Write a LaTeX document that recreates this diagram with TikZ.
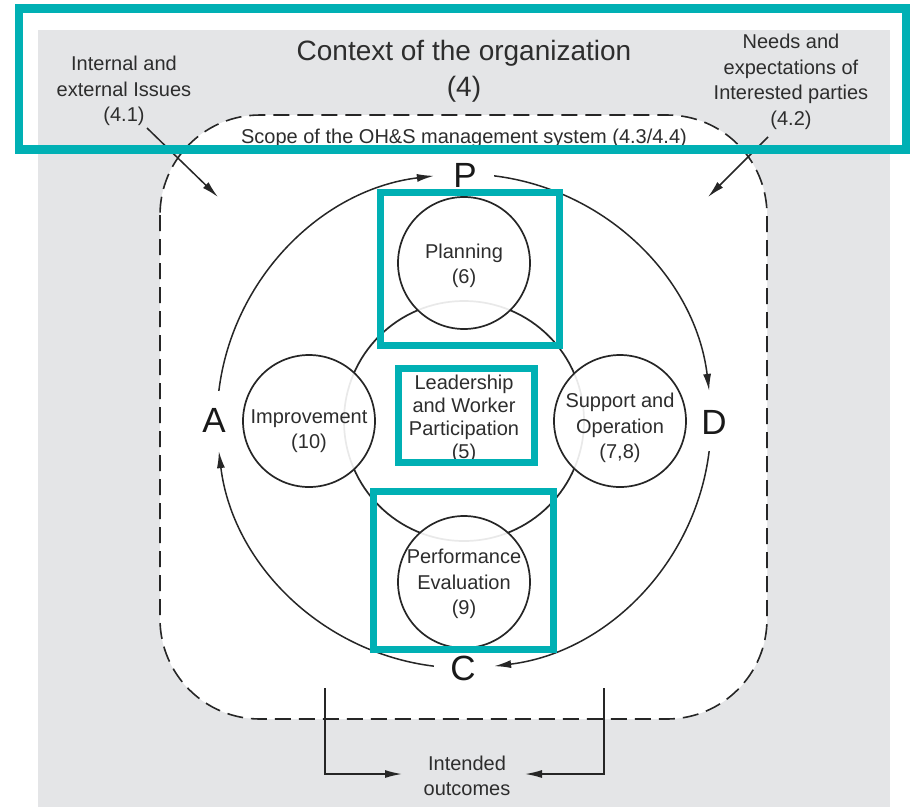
\documentclass[tikz,border=0pt]{standalone}
\usepackage{fontspec}
\setmainfont{Liberation Sans}
\usetikzlibrary{arrows.meta,calc}
\definecolor{tealc}{RGB}{0,176,180}
\definecolor{bggray}{RGB}{228,229,231}
\definecolor{txt}{RGB}{45,45,45}
\begin{document}
\begin{tikzpicture}[x=1pt,y=-1pt,
  lbl/.style={font=\fontsize{20}{25.5}\selectfont, text=txt, align=center, inner sep=0pt},
  titlelbl/.style={font=\fontsize{28}{36}\selectfont, text=txt, align=center, inner sep=0pt},
  pdca/.style={font=\fontsize{35}{40}\selectfont, text=black!90, inner sep=0pt},
  circ/.style={circle, draw=black!85, line width=1.7pt, minimum size=132pt, inner sep=0pt,
               fill=white, fill opacity=0.9},
  tealbox/.style={draw=tealc, line width=7pt},
  arr/.style={-{Latex[length=17pt,width=8pt]}, line width=1.5pt, draw=black!85},
  scopebox/.style={draw=black!85, fill=white, dash pattern=on 16pt off 8pt, line width=1.6pt, rounded corners=100pt}
]
\useasboundingbox (0,0) rectangle (910,807);
% background
\fill[bggray] (38,30) rectangle (890,807);
% scope (dashed) area
\draw[scopebox] (160,115) rectangle (767,719);
% inner circle
\coordinate (O) at (464,421);
\draw[line width=1.7pt, draw=black!85] (O) circle[radius=120];
% four circles
\node[circ] (plan) at (464,263) {};
\node[circ] (impr) at (309,421) {};
\node[circ] (supp) at (620,421) {};
\node[circ] (perf) at (464,582) {};
\node[lbl] (plant) at (464,266) {Planning\\(6)};
\node[lbl] (imprt) at (309,431) {Improvement\\(10)};
\node[lbl] (suppt) at (620,428) {Support and\\Operation\\(7,8)};
\node[lbl] (perft) at (464,584) {Performance\\Evaluation\\(9)};
\node[lbl, font=\fontsize{20}{23}\selectfont] (lead) at (464,419) {Leadership\\and Worker\\Participation\\(5)};
% PDCA letters
\node[pdca] (P) at (465,175) {P};
\node[pdca] (D) at (714,422) {D};
\node[pdca] (C) at (463,668) {C};
\node[pdca] (A) at (214,420) {A};
% PDCA arcs
\coordinate (a1) at ($(O)+(-173:247)$);
\coordinate (a2) at ($(O)+(-83:247)$);
\coordinate (a3) at ($(O)+(7:247)$);
\coordinate (a4) at ($(O)+(97:247)$);
\draw[arr] (a1) arc[start angle=-173, end angle=-97, radius=247];
\draw[arr] (a2) arc[start angle=-83, end angle=-7, radius=247];
\draw[arr] (a3) arc[start angle=7, end angle=83, radius=247];
\draw[arr] (a4) arc[start angle=97, end angle=173, radius=247];
% context texts
\node[titlelbl] (ctx) at (464,71) {Context of the organization\\(4)};
\node[lbl] (iss) at (124,91) {Internal and\\external Issues\\(4.1)};
\node[lbl] (needs) at (791,82) {Needs and\\expectations of\\Interested parties\\(4.2)};
\node[lbl] (scope) at (464,138) {Scope of the OH\&S management system (4.3/4.4)};
\coordinate (issS) at (147,128);
\coordinate (issT) at (218,197);
\coordinate (needS) at (768,137);
\coordinate (needT) at (708,197);
\draw[arr] (issS) -- (issT);
\draw[arr] (needS) -- (needT);
% intended outcomes
\node[lbl] (out) at (467,776) {Intended\\outcomes};
\coordinate (lS) at (325,688);
\coordinate (lT) at (402,774);
\coordinate (rS) at (604,688);
\coordinate (rT) at (525,774);
\draw[arr] (lS) |- (lT);
\draw[arr] (rS) |- (rT);
% teal highlight boxes
\draw[tealbox, line width=8.5pt] (19,8.5) rectangle (906,149.5);
\draw[tealbox] (380.5,192.5) rectangle (559.5,345.5);
\draw[tealbox] (398.5,368.5) rectangle (534.5,462.5);
\draw[tealbox] (373.5,491.5) rectangle (553.5,649.5);
\end{tikzpicture}
\end{document}
